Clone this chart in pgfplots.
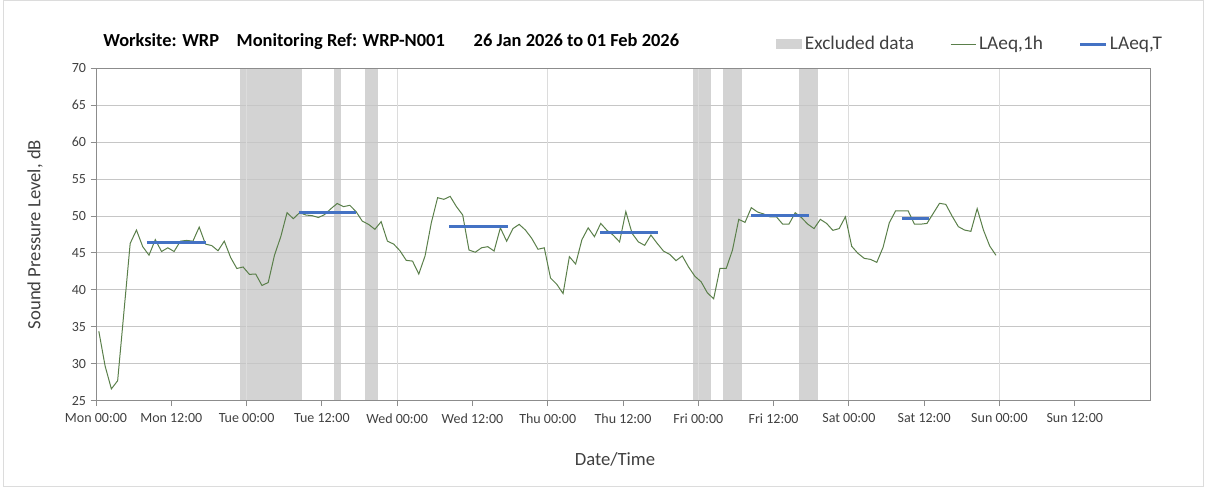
\documentclass[border=0pt]{standalone}
\usepackage{fontspec}
\setmainfont{Carlito}
\usepackage{pgfplots}
\pgfplotsset{compat=1.18}
\definecolor{grn}{HTML}{5A7F4A}
\definecolor{blu}{HTML}{4472C4}
\definecolor{band}{HTML}{D3D3D3}
\definecolor{hgrid}{HTML}{C6C6C6}
\definecolor{vgrid}{HTML}{DCDCDC}
\definecolor{axc}{HTML}{8C8C8C}
\definecolor{txt}{HTML}{404040}
\begin{document}
\begin{tikzpicture}
\begin{axis}[name=ax, set layers, scale only axis, width=790.5pt, height=249.3pt,
  xmin=0, xmax=168, ymin=25, ymax=70,
  xtick={0,12,...,156},
  xticklabels={Mon 00:00, Mon 12:00, Tue 00:00, Tue 12:00, Wed 00:00, Wed 12:00, Thu 00:00, Thu 12:00, Fri 00:00, Fri 12:00, Sat 00:00, Sat 12:00, Sun 00:00, Sun 12:00},
  ytick={25,30,...,70},
  tick pos=left, tick align=outside, major tick length=4pt,
  ymajorgrids, major grid style={draw=hgrid, line width=0.75pt},
  extra x ticks={24,48,...,144}, extra x tick labels={},
  extra x tick style={xmajorgrids=true, major grid style={draw=vgrid, line width=0.75pt}},
  axis line style={draw=axc, line width=0.75pt},
  tick style={draw=axc, line width=0.75pt},
  tick label style={font=\fontsize{10.5}{12}\selectfont, text=txt},
  x tick label style={yshift=-2pt},
  /pgf/number format/assume math mode=true,
  xlabel={Date/Time},
  xlabel style={at={(axis description cs:0.4924,-0.178)}, anchor=center, font=\fontsize{14}{16}\selectfont, text=txt},
  ylabel={Sound Pressure Level, dB},
  ylabel style={at={(axis description cs:-0.0579,0.5)}, anchor=center, font=\fontsize{14}{16}\selectfont, text=txt},
  legend columns=-1,
  legend style={draw=none, fill=none, at={(1.0142,1.073)}, anchor=east, inner sep=0pt,
    font=\fontsize{14.5}{16}\selectfont, text=txt,
    /tikz/every even column/.append style={column sep=25pt}},
]
% excluded data bands
\addplot[fill=band, draw=none, on layer=axis background, area legend,
  legend image code/.code={\fill[band] (0pt,-3.55pt) rectangle (19.5pt,3.55pt);}]
  coordinates {(22.95,70) (32.8,70)} \closedcycle;
\addlegendentry{Excluded data}
\addplot[fill=band, draw=none, on layer=axis background, forget plot] coordinates {(38,70) (39,70)} \closedcycle;
\addplot[fill=band, draw=none, on layer=axis background, forget plot] coordinates {(42.9,70) (44.9,70)} \closedcycle;
\addplot[fill=band, draw=none, on layer=axis background, forget plot] coordinates {(95.1,70) (98,70)} \closedcycle;
\addplot[fill=band, draw=none, on layer=axis background, forget plot] coordinates {(100,70) (103,70)} \closedcycle;
\addplot[fill=band, draw=none, on layer=axis background, forget plot] coordinates {(112,70) (115,70)} \closedcycle;
% LAeq,1h
\addplot[grn, line width=0.75pt, mark=none,
  legend image code/.code={\draw[grn, line width=0.75pt] (0pt,0pt) -- (19pt,0pt);}]
coordinates {
(0.45,34.4)(1.45,29.7)(2.45,26.6)(3.45,27.7)(4.45,37.0)(5.45,46.3)(6.45,48.1)(7.45,45.85)(8.45,44.7)(9.45,46.8)(10.45,45.2)(11.45,45.7)(12.45,45.2)(13.45,46.6)(14.45,46.7)(15.45,46.6)(16.45,48.5)(17.45,46.2)(18.45,46.0)(19.45,45.3)(20.45,46.6)(21.45,44.4)(22.45,42.9)(23.45,43.1)
(24.45,42.1)(25.45,42.15)(26.45,40.6)(27.45,41.0)(28.45,44.7)(29.45,47.2)(30.45,50.45)(31.45,49.64)(32.45,50.45)(33.45,50.14)(34.45,50.05)(35.45,49.8)(36.45,50.2)(37.45,51.0)(38.45,51.7)(39.45,51.27)(40.45,51.45)(41.45,50.6)(42.45,49.3)(43.45,48.87)(44.45,48.2)(45.45,49.24)(46.45,46.6)(47.45,46.2)
(48.45,45.3)(49.45,44.0)(50.45,43.9)(51.45,42.15)(52.45,44.6)(53.45,49.1)(54.45,52.48)(55.45,52.26)(56.45,52.66)(57.45,51.27)(58.45,50.14)(59.45,45.4)(60.45,45.1)(61.45,45.7)(62.45,45.85)(63.45,45.26)(64.45,48.4)(65.45,46.6)(66.45,48.3)(67.45,48.87)(68.45,48.1)(69.45,46.98)(70.45,45.5)(71.45,45.7)
(72.45,41.6)(73.45,40.75)(74.45,39.5)(75.45,44.5)(76.45,43.5)(77.45,46.8)(78.45,48.4)(79.45,47.2)(80.45,49.0)(81.45,48.06)(82.45,47.4)(83.45,46.5)(84.45,50.6)(85.45,47.65)(86.45,46.5)(87.45,46.03)(88.45,47.43)(89.45,46.3)(90.45,45.26)(91.45,44.8)(92.45,43.96)(93.45,44.6)(94.45,43.1)(95.45,41.85)
(96.45,41.1)(97.45,39.6)(98.45,38.8)(99.45,42.9)(100.45,42.9)(101.45,45.4)(102.45,49.55)(103.45,49.14)(104.45,51.13)(105.45,50.54)(106.45,50.27)(107.45,49.87)(108.45,49.9)(109.45,48.9)(110.45,48.9)(111.45,50.45)(112.45,49.78)(113.45,48.9)(114.45,48.3)(115.45,49.55)(116.45,49.0)(117.45,48.06)(118.45,48.3)(119.45,49.9)
(120.45,45.9)(121.45,44.95)(122.45,44.27)(123.45,44.13)(124.45,43.73)(125.45,45.76)(126.45,49.1)(127.45,50.7)(128.45,50.7)(129.45,50.7)(130.45,48.9)(131.45,48.9)(132.45,49.0)(133.45,50.36)(134.45,51.72)(135.45,51.58)(136.45,50.0)(137.45,48.56)(138.45,48.1)(139.45,47.93)(140.45,51.0)(141.45,48.1)(142.45,45.94)(143.45,44.68)
};
\addlegendentry{LAeq,1h}
% LAeq,T
\addplot[blu, line width=2.25pt, mark=none,
  legend image code/.code={\draw[blu, line width=2.25pt] (0pt,0pt) -- (19pt,0pt);}]
  coordinates {(8.1,46.4) (17.5,46.4)};
\addlegendentry{LAeq,T}
\addplot[blu, line width=2.25pt, mark=none, forget plot] coordinates {(32.3,50.5) (41.5,50.5)};
\addplot[blu, line width=2.25pt, mark=none, forget plot] coordinates {(56.3,48.6) (65.6,48.6)};
\addplot[blu, line width=2.25pt, mark=none, forget plot] coordinates {(80.4,47.8) (89.6,47.8)};
\addplot[blu, line width=2.25pt, mark=none, forget plot] coordinates {(104.4,50.1) (113.7,50.1)};
\addplot[blu, line width=2.25pt, mark=none, forget plot] coordinates {(128.45,49.65) (132.7,49.65)};
\end{axis}
\node[anchor=base west, font=\fontsize{13.8}{16}\selectfont\bfseries] at ([shift={(1.95pt,16.7pt)}]ax.north west) {Worksite: WRP};
\node[anchor=base west, font=\fontsize{13.8}{16}\selectfont\bfseries] at ([shift={(102pt,16.7pt)}]ax.north west) {Monitoring Ref: WRP-N001};
\node[anchor=base west, font=\fontsize{13.8}{16}\selectfont\bfseries] at ([shift={(279.75pt,16.7pt)}]ax.north west) {26 Jan 2026 to 01 Feb 2026};
\path ([shift={(-72pt,-67.725pt)}]ax.south west) rectangle ([shift={(43.5pt,51.225pt)}]ax.north east);
\draw[draw=vgrid, line width=0.75pt] ([shift={(-69pt,-64.7pt)}]ax.south west) rectangle ([shift={(39.75pt,50.5pt)}]ax.north east);
\end{tikzpicture}
\end{document}
